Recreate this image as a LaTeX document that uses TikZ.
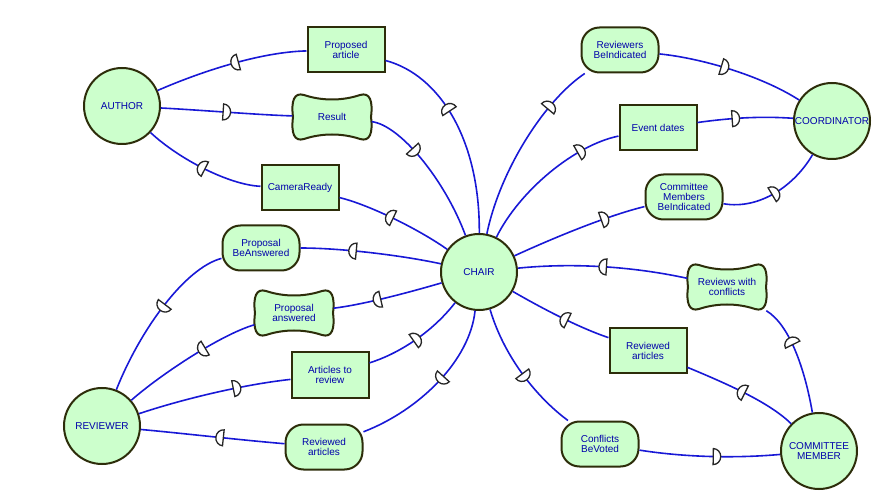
\documentclass[tikz,border=0pt]{standalone}
\usepackage{fontspec}
\setmainfont{Liberation Sans}
\usetikzlibrary{backgrounds, decorations.markings}
\definecolor{elemfill}{RGB}{204,255,204}
\definecolor{elemline}{RGB}{45,45,10}
\definecolor{linkblue}{RGB}{24,24,214}
\definecolor{textblue}{RGB}{0,0,170}

% the D of a dependency, bulge along the path
\newcommand{\dmark}{\draw[line width=1.3pt, black!85, fill=white] (-3.5pt,-8pt) -- (-3.5pt,8pt) arc[start angle=90, end angle=-90, x radius=7.5pt, y radius=8pt] -- cycle;}
% wavy outline of a softgoal
\newcommand{\softgoal}[1]{\draw[softline, shift={(#1.center)}] (-28,-22) .. controls (-10,-16) and (10,-16) .. (28,-22) .. controls (38,-25) and (41,-16) .. (39,0) .. controls (41,16) and (38,25) .. (28,22) .. controls (10,16) and (-10,16) .. (-28,22) .. controls (-38,25) and (-41,16) .. (-39,0) .. controls (-41,-16) and (-38,-25) .. (-28,-22) -- cycle;}

\begin{document}
\begin{tikzpicture}[x=1pt, y=-1pt,
  every node/.style={font=\fontsize{10}{10}\selectfont, text=textblue, align=center},
  actor/.style={circle, draw=elemline, line width=2pt, fill=elemfill, minimum size=76pt, inner sep=0pt},
  resource/.style={rectangle, draw=elemline, line width=2pt, fill=elemfill, minimum width=77pt, minimum height=45pt, inner sep=1pt},
  goal/.style={resource, rounded corners=18pt},
  soft/.style={rectangle, minimum width=79pt, minimum height=47pt, inner sep=1pt},
  softline/.style={draw=elemline, line width=2pt, fill=elemfill},
  dep/.style={draw=linkblue, line width=1.6pt, postaction={decorate},
    decoration={markings, mark=at position #1 with {\dmark}}},
  dep/.default=0.5]
  \useasboundingbox (0,0) rectangle (894,502);

  % actors
  \node[actor] (author) at (122,106) {AUTHOR};
  \node[actor] (chair) at (479,272) {CHAIR};
  \node[actor] (coord) at (832,121) {COORDINATOR};
  \node[actor] (reviewer) at (102,426) {REVIEWER};
  \node[actor] (committee) at (819,451) {COMMITTEE\\MEMBER};

  % dependums
  \node[resource] (propart) at (346,50) {Proposed\\article};
  \node[soft] (result) at (332,117) {Result};
  \node[resource] (camera) at (300,188) {CameraReady};
  \node[goal] (pba) at (261,248) {Proposal\\BeAnswered};
  \node[soft] (pans) at (294,313) {Proposal\\answered};
  \node[resource] (atr) at (330,375) {Articles to\\review};
  \node[goal] (ral) at (324,447) {Reviewed\\articles};
  \node[goal] (rbi) at (620,50) {Reviewers\\BeIndicated};
  \node[resource] (event) at (658,128) {Event dates};
  \node[goal] (cmbi) at (684,197) {Committee\\Members\\BeIndicated};
  \node[soft] (rwc) at (727,287) {Reviews with\\conflicts};
  \node[resource] (rar) at (648,351) {Reviewed\\articles};
  \node[goal] (cbv) at (600,444) {Conflicts\\BeVoted};

  \begin{scope}[on background layer]
    \softgoal{result}
    \softgoal{pans}
    \softgoal{rwc}
  \end{scope}

  % author and chair
  \draw[dep=0.62] (chair) .. controls (480,140) and (440,75) .. (propart);
  \draw[dep=0.47] (propart) .. controls (260,52) and (200,72) .. (author);
  \draw[dep=0.5] (author) .. controls (200,110) and (260,115) .. (result);
  \draw[dep=0.35] (result) .. controls (400,125) and (445,180) .. (chair);
  \draw[dep=0.55] (chair) .. controls (420,230) and (370,205) .. (camera);
  \draw[dep=0.5] (camera) .. controls (230,185) and (180,160) .. (author);

  % reviewer and chair
  \draw[dep=0.63] (chair) .. controls (400,255) and (340,248) .. (pba);
  \draw[dep=0.45] (pba) .. controls (185,268) and (140,330) .. (reviewer);
  \draw[dep=0.6] (chair) .. controls (400,295) and (360,305) .. (pans);
  \draw[dep=0.4] (pans) .. controls (220,335) and (160,375) .. (reviewer);
  \draw[dep=0.65] (reviewer) .. controls (180,400) and (240,385) .. (atr);
  \draw[dep=0.5] (atr) .. controls (395,355) and (430,335) .. (chair);
  \draw[dep=0.45] (chair) .. controls (470,360) and (420,410) .. (ral);
  \draw[dep=0.45] (ral) .. controls (240,440) and (180,433) .. (reviewer);

  % coordinator and chair
  \draw[dep=0.75] (chair) .. controls (500,170) and (545,100) .. (rbi);
  \draw[dep=0.45] (rbi) .. controls (700,58) and (760,75) .. (coord);
  \draw[dep=0.75] (chair) .. controls (520,190) and (575,145) .. (event);
  \draw[dep=0.4] (event) .. controls (730,118) and (760,116) .. (coord);
  \draw[dep=0.7] (chair) .. controls (560,235) and (610,215) .. (cmbi);
  \draw[dep=0.5] (cmbi) .. controls (760,210) and (795,185) .. (coord);

  % committee member and chair
  \draw[dep=0.65] (committee) .. controls (805,370) and (790,325) .. (rwc);
  \draw[dep=0.5] (rwc) .. controls (640,268) and (580,262) .. (chair);
  \draw[dep=0.5] (committee) .. controls (770,403) and (730,385) .. (rar);
  \draw[dep=0.45] (rar) .. controls (580,328) and (545,310) .. (chair);
  \draw[dep=0.55] (chair) .. controls (505,360) and (540,400) .. (cbv);
  \draw[dep=0.55] (cbv) .. controls (690,458) and (740,458) .. (committee);
\end{tikzpicture}
\end{document}
